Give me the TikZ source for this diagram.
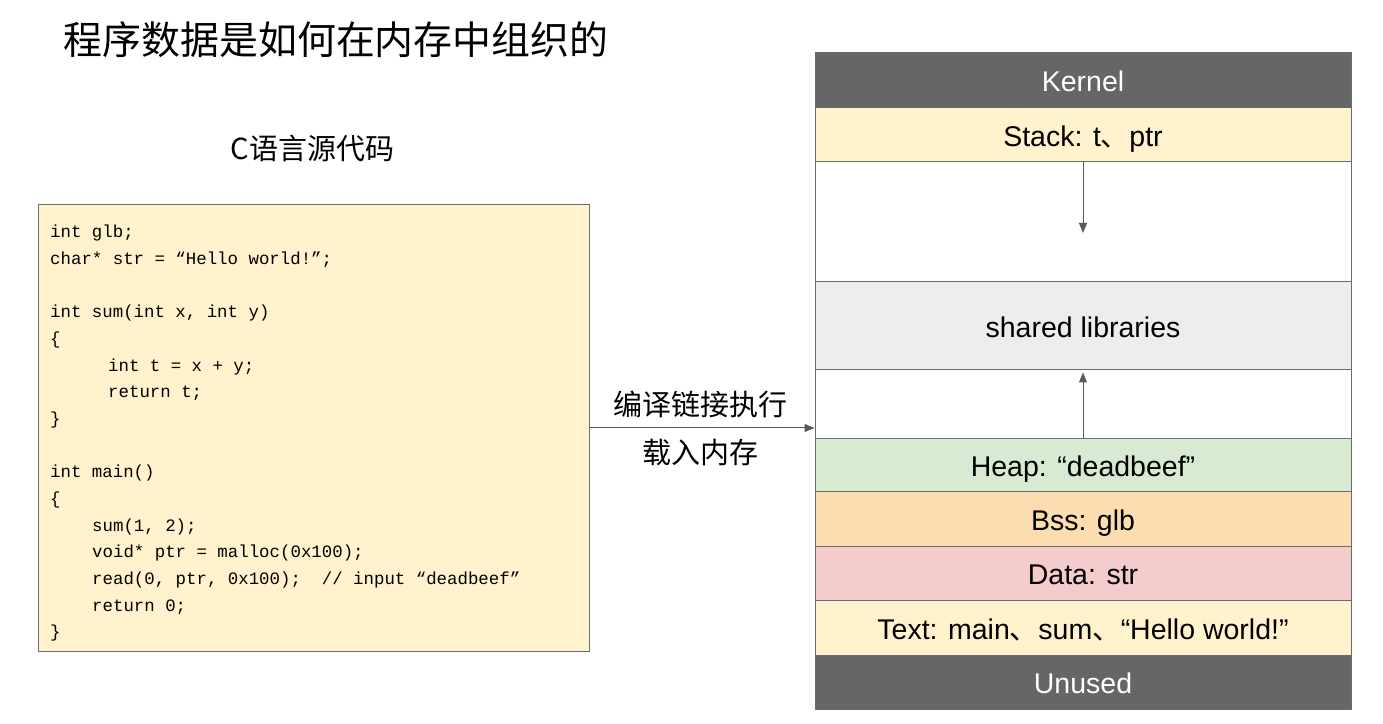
\documentclass[tikz,border=0pt]{standalone}
\usepackage{fontspec}
\setmainfont{Liberation Sans}
\setmonofont{Liberation Mono}
\newfontfamily\cjk{Noto Sans CJK SC}
\usetikzlibrary{arrows.meta}
\definecolor{edgegray}{HTML}{6B6B6B}
\definecolor{darkseg}{HTML}{666666}
\definecolor{creamfill}{HTML}{FFF2CC}
\definecolor{libgray}{HTML}{EDEDED}
\definecolor{heapgreen}{HTML}{D9EAD3}
\definecolor{bssorange}{HTML}{FCDDB0}
\definecolor{datapink}{HTML}{F4CCCC}
\definecolor{arrowgray}{HTML}{595959}
\begin{document}
\begin{tikzpicture}[x=1pt,y=1pt,
  seg/.style={draw=edgegray, line width=1pt, minimum width=536pt, inner sep=0pt,
    text height=23.4pt, text depth=0pt,
    font=\fontsize{28.5}{32}\selectfont},
  codeline/.style={anchor=base west, inner sep=0pt, font=\ttfamily\fontsize{17.4}{20}\selectfont},
  arr/.style={draw=arrowgray, line width=1pt, -{Triangle[length=10pt,width=8pt]}},
  cjklabel/.style={font=\cjk\fontsize{29}{32}\selectfont, inner sep=0pt}]
\useasboundingbox (0,0) rectangle (1383,723);

% titles
\node[font=\cjk\fontsize{38.9}{42}\selectfont, inner sep=0pt] (title) at (336,723-40) {程序数据是如何在内存中组织的};
\node[font=\cjk\fontsize{29}{32}\selectfont, inner sep=0pt] (srctitle) at (312.5,723-148) {C语言源代码};

% code box
\node[draw=edgegray, fill=creamfill, line width=1pt, minimum width=551pt, minimum height=446pt, inner sep=0pt] (code) at (313.5,723-428) {};
\node[codeline] (c1) at (50,485.3) {int~glb;};
\node[codeline] (c2) at (50,458.6) {char*~str~=~“Hello~world!”;};
\node[codeline] (c3) at (50,405.3) {int~sum(int~x,~int~y)};
\node[codeline] (c4) at (50,378.6) {\{};
\node[codeline] (c5) at (108,351.9) {int~t~=~x~+~y;};
\node[codeline] (c6) at (108,325.3) {return~t;};
\node[codeline] (c7) at (50,298.6) {\}};
\node[codeline] (c8) at (50,245.3) {int~main()};
\node[codeline] (c9) at (50,218.6) {\{};
\node[codeline] (c10) at (92,191.9) {sum(1,~2);};
\node[codeline] (c11) at (92,165.3) {void*~ptr~=~malloc(0x100);};
\node[codeline] (c12) at (92,138.6) {read(0,~ptr,~0x100);~~//~input~“deadbeef”};
\node[codeline] (c13) at (92,111.9) {return~0;};
\node[codeline] (c14) at (50,85.3) {\}};

% memory layout
\node[seg, fill=darkseg, text=white, minimum height=54.5pt] (kernel) at (1083,723-80.25) {Kernel};
\node[seg, fill=creamfill, minimum height=54pt] (stack) at (1083,723-134.5) {Stack: t{\cjk 、}ptr};
\node[seg, fill=white, minimum height=120pt] (gapone) at (1083,723-221.5) {};
\node[seg, fill=libgray, minimum height=88pt] (shared) at (1083,723-325.5) {shared libraries};
\node[seg, fill=white, minimum height=69pt] (gaptwo) at (1083,723-404) {};
\node[seg, fill=heapgreen, minimum height=53.5pt] (heap) at (1083,723-465.25) {Heap: “deadbeef”};
\node[seg, fill=bssorange, minimum height=54pt] (bss) at (1083,723-519) {Bss: glb};
\node[seg, fill=datapink, minimum height=54.5pt] (data) at (1083,723-573.25) {Data: str};
\node[seg, fill=creamfill, minimum height=54.5pt] (text) at (1083,723-627.75) {Text: main{\cjk 、}sum{\cjk 、}“Hello world!”};
\node[seg, fill=darkseg, text=white, minimum height=54.5pt] (unused) at (1083,723-682.25) {Unused};

% growth arrows
\coordinate (stacktip) at (1083,723-233);
\coordinate (heaptip) at (1083,723-372.5);
\draw[arr] (stack.south) -- (stacktip);
\draw[arr] (heap.north) -- (heaptip);

% main arrow
\draw[arr] (code.east) -- (code.east -| gaptwo.west);
\node[cjklabel] (compile) at (700,723-404) {编译链接执行};
\node[cjklabel] (load) at (700.5,723-452) {载入内存};
\end{tikzpicture}
\end{document}
